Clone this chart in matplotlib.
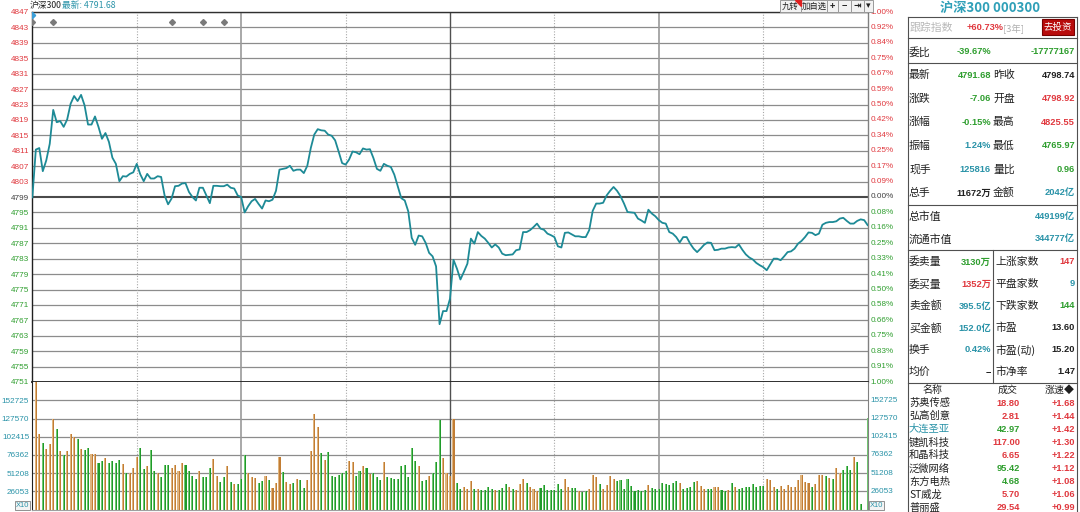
import matplotlib
matplotlib.use("Agg")
import matplotlib.pyplot as plt
import matplotlib.transforms as mtransforms
from matplotlib.patches import Rectangle, Polygon
from matplotlib.lines import Line2D

plt.rcParams['font.family'] = ['Noto Sans CJK SC', 'DejaVu Sans']

W, H = 1080, 512

# ---- data ----
prev_close = 4798.74

price = [
    4798.9,
    4811.3, 4811.7, 4805.7, 4808.5, 4812.8, 4821.6, 4818.4, 4818.7, 4817.2, 4819.1,
    4823.2, 4825.2, 4823.9, 4825.5, 4822.8, 4817.8, 4817.8, 4819.9, 4817.2, 4814.1,
    4815.6, 4813.3, 4809.2, 4807.6, 4803.1, 4804.4, 4804.3, 4805.0, 4805.4, 4807.6,
    4804.9, 4803.1, 4805.0, 4803.8, 4803.8, 4804.4, 4804.2, 4799.4, 4797.1, 4798.6,
    4801.8, 4801.9, 4802.5, 4802.6, 4800.3, 4799.0, 4798.1, 4801.4, 4801.4, 4799.4,
    4797.4, 4801.9, 4801.9, 4801.8, 4801.8, 4802.2, 4801.4, 4801.2, 4799.4, 4799.0,
    4795.0, 4796.6, 4797.9, 4798.5, 4797.2, 4796.0, 4798.1, 4797.9, 4798.3, 4800.6,
    4806.1, 4806.3, 4806.5, 4807.1, 4805.8, 4806.1, 4806.1, 4805.2, 4807.1, 4811.7,
    4815.2, 4816.6, 4816.3, 4816.2, 4815.2, 4814.9, 4813.7, 4810.8, 4807.8, 4807.4,
    4808.7, 4810.8, 4810.6, 4810.1, 4811.6, 4811.3, 4811.4, 4809.1, 4806.3, 4805.8,
    4807.6, 4807.1, 4806.8, 4804.8, 4801.8, 4798.7, 4798.1, 4795.3, 4788.4, 4786.6,
    4789.0, 4788.8, 4787.1, 4784.5, 4783.6, 4781.0, 4766.0, 4769.4, 4769.4, 4772.6,
    4782.7, 4780.4, 4777.6, 4779.6, 4781.7, 4788.2, 4786.9, 4789.9, 4788.9, 4788.2,
    4787.1, 4785.9, 4786.7, 4785.9, 4784.3, 4783.9, 4784.0, 4784.1, 4785.2, 4785.4,
    4789.9, 4789.9, 4790.4, 4791.2, 4792.1, 4790.8, 4790.5, 4789.5, 4789.1, 4788.6,
    4786.2, 4785.9, 4789.7, 4789.8, 4789.3, 4788.8, 4788.8, 4788.6, 4788.6, 4790.4,
    4795.4, 4797.3, 4797.3, 4797.5, 4799.4, 4800.6, 4801.6, 4800.6, 4799.2, 4797.3,
    4795.1, 4795.0, 4794.9, 4793.4, 4792.9, 4792.3, 4795.7, 4794.7, 4794.0, 4793.0,
    4792.3, 4792.1, 4789.9, 4789.5, 4788.6, 4787.2, 4788.6, 4788.6, 4786.9, 4785.6,
    4784.7, 4785.6, 4786.6, 4787.2, 4787.1, 4785.2, 4785.3, 4785.6, 4785.6, 4785.9,
    4786.0, 4785.9, 4786.7, 4785.3, 4784.1, 4783.3, 4782.8, 4781.9, 4781.3, 4780.8,
    4780.0, 4781.5, 4783.0, 4783.0, 4782.6, 4783.6, 4784.7, 4784.9, 4785.6, 4786.9,
    4787.6, 4788.6, 4789.8, 4789.7, 4789.1, 4789.5, 4791.8, 4792.3, 4792.5, 4792.5,
    4792.7, 4793.4, 4793.6, 4792.8, 4792.1, 4792.1, 4792.8, 4793.2, 4793.0, 4791.7,
]

volume = [
    58700, 176000, 104400, 91800, 83900, 89900, 125800, 111400, 80600, 75000,
    80600, 104400, 100700, 97900, 83400, 82000, 85700, 76400, 76400, 63800,
    67600, 71800, 63800, 66600, 64800, 69000, 63400, 50300, 50300, 57800,
    72200, 84800, 55900, 59600, 82000, 52700, 49900, 45200, 61000, 62000,
    56900, 61000, 52700, 64800, 61000, 52700, 45700, 41500, 52700, 45200,
    45200, 56900, 70400, 45700, 38200, 44300, 60600, 38200, 35400, 35400,
    42400, 75000, 49900, 44700, 43800, 36300, 39100, 46100, 40100, 29800,
    36300, 72200, 51300, 38200, 35000, 37300, 42400, 41000, 30300, 40100,
    81100, 131900, 113700, 78300, 69000, 79200, 46600, 45200, 48000, 49900,
    52700, 67600, 65700, 46600, 53600, 59600, 56900, 48500, 49900, 44300,
    40100, 65200, 45200, 43800, 41500, 42400, 59600, 61000, 44300, 85700,
    67600, 60600, 39100, 40100, 46600, 49900, 66200, 124000, 70800, 49900,
    46600, 125800, 37300, 28900, 31700, 28900, 39100, 28900, 28900, 27000,
    27500, 31200, 28900, 27500, 27500, 30300, 35400, 31200, 28400, 27000,
    35400, 42400, 36300, 31200, 28400, 25600, 30300, 33600, 27000, 27000,
    27500, 35400, 28400, 42400, 31200, 29800, 29800, 25600, 24200, 25600,
    28900, 48000, 44300, 35400, 28900, 33600, 46100, 42400, 39100, 40100,
    28900, 41500, 32600, 25600, 27000, 25600, 27500, 34500, 30300, 28900,
    28900, 37300, 35400, 34500, 37300, 39100, 37300, 28900, 30300, 31700,
    38700, 39100, 33100, 28900, 28900, 28900, 31700, 31700, 27500, 25600,
    27500, 37300, 31700, 28900, 30300, 31700, 31700, 35400, 31700, 33100,
    33100, 42400, 40100, 31700, 28900, 33100, 28900, 33600, 31700, 31700,
    40100, 47100, 38700, 37300, 31700, 35400, 48000, 48000, 46100, 43800,
    42400, 56900, 49900, 55000, 60600, 55000, 73200, 65700, 7500, 0,
    127200,
]

# b = auction, u = up minute, d = down minute
vol_dir = ("buuduuudud" "uuududduud" "dudddduduu" "uddudduddd"
           "uuuuddddud" "dduuddudud" "dduuuddudu" "uuduududdu"
           "uuududdddd" "duuddududd" "dudddddddd" "dudduddduu"
           "uudduuudud" "dddudddudu" "uuduuudddd" "ddduuddudd"
           "uuuduuuudd" "dddddddudd" "dddddduddd" "duuudduudd"
           "ududdddddd" "duuuduuuuu" "uuuuduuudu" "duudddudddd")

assert len(price) == 241 and len(volume) == 241 and len(vol_dir) == 241

price_levels = list(range(4847, 4750, -4))
pct_labels = ["1.00%", "0.92%", "0.84%", "0.75%", "0.67%", "0.59%", "0.50%",
              "0.42%", "0.34%", "0.25%", "0.17%", "0.09%", "0.00%",
              "0.08%", "0.16%", "0.25%", "0.33%", "0.41%", "0.50%",
              "0.58%", "0.66%", "0.75%", "0.83%", "0.91%", "1.00%"]
vol_labels = ["26053", "51208", "76362", "102415", "127570", "152725"]
vol_step = 25155
vol_top = 176300

event_minutes = [0, 6, 40, 49, 55]

quote_l_names = ["最新", "涨跌", "涨幅", "振幅", "现手", "总手"]
quote_l_vals = ["4791.68", "-7.06", "-0.15%", "1.24%", "125816", "11672万"]
quote_r_names = ["昨收", "开盘", "最高", "最低", "量比", "金额"]
quote_r_vals = ["4798.74", "4798.92", "4825.55", "4765.97", "0.96", "2042亿"]

book_l_names = ["委卖量", "委买量", "卖金额", "买金额", "换手", "均价"]
book_l_vals = ["3130万", "1352万", "395.5亿", "152.0亿", "0.42%", "−"]
book_r_names = ["上涨家数", "平盘家数", "下跌家数", "市盈", "市盈(动)", "市净率"]
book_r_vals = ["147", "9", "144", "13.60", "15.20", "1.47"]

stock_names = ["苏奥传感", "弘高创意", "大连圣亚", "键凯科技", "和晶科技",
               "泛微网络", "东方电热", "ST威龙", "普丽盛"]
stock_prices = ["18.80", "2.81", "42.97", "117.00", "6.65", "95.42", "4.68", "5.70", "29.54"]
stock_speed = ["+1.68", "+1.44", "+1.42", "+1.30", "+1.22", "+1.12", "+1.08", "+1.06", "+0.99"]

# ---- colours ----
RED = "#e0383e"
GREEN = "#2f9e2f"
TEAL = "#2a93a8"
BLACK = "#202020"
LINE = "#1d8a96"
GRID = "#8c8c8c"

fig = plt.figure(figsize=(W / 100, H / 100), dpi=100)
fig.patch.set_facecolor("white")


def fx(x):
    return x / W


def fy(y):
    return 1 - y / H


def ftext(x, y, s, **kw):
    kw.setdefault("va", "center")
    fig.text(fx(x), fy(y), s, **kw)


def fline(x0, y0, x1, y1, color="#606060", lw=0.8):
    fig.add_artist(Line2D([fx(x0), fx(x1)], [fy(y0), fy(y1)], color=color, lw=lw,
                          transform=fig.transFigure))


NUM = ['Liberation Sans', 'Noto Sans CJK SC']
AXF = 5.9   # axis label size
NF = 6.7    # panel number size

# ---- price panel ----
ax = fig.add_axes([fx(32), fy(382), 836 / W, 370 / H])
ax.set_xlim(-0.1, 240.1)
ax.set_ylim(4751, 4847)
for lv in price_levels:
    if lv == 4799:
        ax.axhline(lv, color="#4a4a4a", lw=1.5, zorder=1)
    else:
        ax.axhline(lv, color=GRID, lw=0.9, zorder=1)

for m in (30, 90, 150, 210):
    ax.axvline(m, color="#a8a8a8", lw=0.8, ls=(0, (1, 1.5)), zorder=1)
for m in (60, 180):
    ax.axvline(m, color="#9a9a9a", lw=1.2, zorder=1)
ax.axvline(120, color="#505050", lw=1.0, zorder=1)

ax.plot(range(len(price)), price, color=LINE, lw=1.3, zorder=3)
ax.plot(event_minutes, [4844.5] * len(event_minutes), ls="none", marker="D",
        ms=3, color="#7a7a7a", zorder=4)
ax.plot([0], [4846.3], ls="none", marker="D", ms=3.2, color="#3a9ed8", zorder=4)

ax.set_xticks([])
ax.set_yticks(price_levels)
ax.set_yticklabels([str(v) for v in price_levels], family=NUM, fontsize=AXF)
for lab, lv in zip(ax.get_yticklabels(), price_levels):
    lab.set_color(RED if lv > 4799 else ("#404040" if lv == 4799 else GREEN))
ax.tick_params(axis="y", length=0, pad=2)

trans = mtransforms.blended_transform_factory(ax.transAxes, ax.transData)
for lv, lab in zip(price_levels, pct_labels):
    col = RED if lv > 4799 else ("#404040" if lv == 4799 else GREEN)
    ax.text(1.003, lv, lab, transform=trans, ha="left", va="center",
            fontsize=AXF, family=NUM, color=col)

for side, sp in ax.spines.items():
    sp.set_linewidth(1.0)
ax.spines["left"].set_color("#202020")
ax.spines["top"].set_color("#303030")
ax.spines["right"].set_color("#808080")
ax.spines["bottom"].set_color("#202020")
ax.spines["bottom"].set_linewidth(1.3)

# ---- volume panel ----
vx = fig.add_axes([fx(32), fy(509.5), 836 / W, 127.5 / H])
vx.set_xlim(-0.1, 240.1)
vx.set_ylim(0, vol_top)
for k in range(1, 7):
    vx.axhline(k * vol_step, color=GRID, lw=0.9, zorder=1)
for m in (30, 90, 150, 210):
    vx.axvline(m, color="#a8a8a8", lw=0.8, ls=(0, (1, 1.5)), zorder=1)
for m in (60, 180):
    vx.axvline(m, color="#9a9a9a", lw=1.2, zorder=1)
vx.axvline(120, color="#505050", lw=1.0, zorder=1)

light = {"u": "#dfb47e", "d": "#72c872", "b": "#6ab4d0"}
dark = {"u": "#c27d34", "d": "#1f9a2a", "b": "#3a98c0"}
idx = list(range(len(volume)))
vx.bar([i - 0.15 for i in idx], volume, width=0.3,
       color=[light[c] for c in vol_dir], zorder=2, linewidth=0)
vx.bar([i + 0.15 for i in idx], volume, width=0.3,
       color=[dark[c] for c in vol_dir], zorder=2, linewidth=0)

vx.set_xticks([])
vx.set_yticks([k * vol_step for k in range(1, 7)])
vx.set_yticklabels(vol_labels, family=NUM, fontsize=AXF, color=TEAL)
vx.tick_params(axis="y", length=0, pad=2)
vtrans = mtransforms.blended_transform_factory(vx.transAxes, vx.transData)
for k, lab in enumerate(vol_labels, start=1):
    vx.text(1.003, k * vol_step, lab, transform=vtrans, ha="left", va="center",
            fontsize=AXF, family=NUM, color=TEAL)
vx.spines["top"].set_visible(False)
vx.spines["left"].set_color("#202020")
vx.spines["right"].set_color("#808080")
vx.spines["bottom"].set_color("#a0a0a0")

for x0 in (15, 869):
    fig.add_artist(Rectangle((fx(x0), fy(510)), 15 / W, 9 / H, transform=fig.transFigure,
                             facecolor="#f4f4f4", edgecolor="#909090", lw=0.7))
    ftext(x0 + 7.5, 505.5, "X10", ha="center", fontsize=5.4, family=NUM, color=TEAL)

# ---- header ----
ftext(30, 5.5, "沪深300", ha="left", fontsize=6.3, color=BLACK)
ftext(62, 5.5, "最新: 4791.68", ha="left", fontsize=6.3, color=TEAL)

buttons = [(780, 801, "九转"), (801, 827, "加自选"), (827, 838, "+"),
           (838, 851, "−"), (851, 864, "⇥"), (864, 873, "▾")]
for x0, x1, s in buttons:
    fig.add_artist(Rectangle((fx(x0), fy(12)), (x1 - x0) / W, 12 / H,
                             transform=fig.transFigure, facecolor="#f2f2f2",
                             edgecolor="#9a9a9a", lw=0.7))
    bold = "bold" if len(s) == 1 else "normal"
    ftext((x0 + x1) / 2, 6, s, ha="center", fontsize=6.5 if len(s) == 1 else 6,
          color=BLACK, fontweight=bold)
fig.add_artist(Polygon([(fx(795), fy(0)), (fx(801), fy(0)), (fx(801), fy(6))],
                       closed=True, transform=fig.transFigure, color="#e02020"))

# ---- right info panel ----
ftext(990, 8, "沪深300 000300", ha="center", fontsize=9.5, color="#2fa0b8",
      fontweight="bold")

PL, PR = 908, 1077
for y in (17, 38, 63, 205, 250, 383):
    fline(PL, y, PR, y, color="#505050", lw=0.8)
fline(PL, 17, PL, 512, color="#505050", lw=0.8)
fline(PR, 17, PR, 512, color="#505050", lw=0.8)
fline(993, 250, 993, 383, color="#505050", lw=0.8)

ftext(910, 28, "跟踪指数", ha="left", fontsize=7.8, color="#b8b8b8")
ftext(967, 28, "+60.73%", ha="left", fontsize=NF, family=NUM, color=RED,
      fontweight="bold")
ftext(1003, 28, "[3年]", ha="left", fontsize=6.8, color="#b0b0b0")
fig.add_artist(Rectangle((fx(1042), fy(35)), 32 / W, 16 / H, transform=fig.transFigure,
                         facecolor="#b80c0c", edgecolor="#7a0000", lw=0.8))
ftext(1058, 27, "去投资", ha="center", fontsize=6.8, color="white")

ftext(909, 52, "委比", ha="left", fontsize=7.8, color=BLACK)
ftext(991, 52, "-39.67%", ha="right", fontsize=NF, family=NUM, color=GREEN,
      fontweight="bold")
ftext(1075, 52, "-17777167", ha="right", fontsize=NF, family=NUM, color=GREEN,
      fontweight="bold")

ql_colors = [GREEN, GREEN, GREEN, TEAL, TEAL, BLACK]
qr_colors = [BLACK, RED, RED, GREEN, GREEN, TEAL]
for k in range(6):
    y = 75 + 23.6 * k
    ftext(909, y, quote_l_names[k], ha="left", fontsize=7.8, color=BLACK)
    ftext(991, y, quote_l_vals[k], ha="right", fontsize=NF, family=NUM,
          color=ql_colors[k], fontweight="bold")
    ftext(993, y, quote_r_names[k], ha="left", fontsize=7.8, color=BLACK)
    ftext(1075, y, quote_r_vals[k], ha="right", fontsize=NF, family=NUM,
          color=qr_colors[k], fontweight="bold")

ftext(909, 217, "总市值", ha="left", fontsize=7.8, color=BLACK)
ftext(1075, 217, "449199亿", ha="right", fontsize=NF, family=NUM, color=TEAL,
      fontweight="bold")
ftext(909, 239, "流通市值", ha="left", fontsize=7.8, color=BLACK)
ftext(1075, 239, "344777亿", ha="right", fontsize=NF, family=NUM, color=TEAL,
      fontweight="bold")

bl_colors = [GREEN, RED, TEAL, TEAL, TEAL, BLACK]
br_colors = [RED, TEAL, GREEN, BLACK, BLACK, BLACK]
for k in range(6):
    y = 262 + 22 * k
    ftext(909, y, book_l_names[k], ha="left", fontsize=7.8, color=BLACK)
    ftext(991, y, book_l_vals[k], ha="right", fontsize=NF, family=NUM,
          color=bl_colors[k], fontweight="bold")
    ftext(995, y, book_r_names[k], ha="left", fontsize=7.8, color=BLACK)
    ftext(1075, y, book_r_vals[k], ha="right", fontsize=NF, family=NUM,
          color=br_colors[k], fontweight="bold")

ftext(933, 390, "名称", ha="center", fontsize=7.2, color=BLACK)
ftext(1008, 390, "成交", ha="center", fontsize=7.2, color=BLACK)
ftext(1075, 390, "涨速◆", ha="right", fontsize=7.2, color=BLACK)
name_colors = [BLACK, BLACK, TEAL, BLACK, BLACK, BLACK, BLACK, BLACK, BLACK]
price_colors = [RED, RED, GREEN, RED, RED, GREEN, GREEN, RED, RED]
for k in range(len(stock_names)):
    y = 403 + 13.1 * k
    ftext(909, y, stock_names[k], ha="left", fontsize=7.4, color=name_colors[k])
    ftext(1020, y, stock_prices[k], ha="right", fontsize=NF, family=NUM,
          color=price_colors[k], fontweight="bold")
    ftext(1075, y, stock_speed[k], ha="right", fontsize=NF, family=NUM,
          color=RED, fontweight="bold")

fig.savefig("out.png", dpi=100)
